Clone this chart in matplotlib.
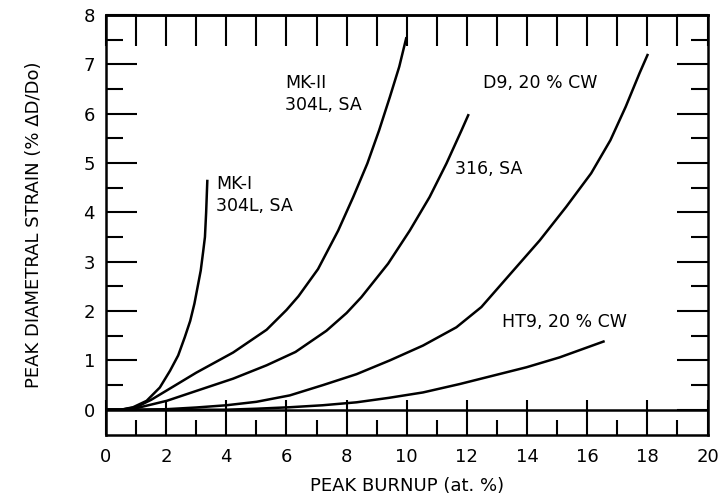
import matplotlib.pyplot as plt
from matplotlib.ticker import MultipleLocator, FixedLocator

# curves (burnup at.%, strain %)
mk1_x = [0, 0.5, 0.9, 1.35, 1.79, 2.13, 2.4, 2.62, 2.8, 2.94, 3.05, 3.15, 3.23, 3.29, 3.33, 3.37]
mk1_y = [0, 0.0, 0.05, 0.18, 0.45, 0.79, 1.1, 1.47, 1.8, 2.15, 2.5, 2.82, 3.2, 3.5, 4.0, 4.66]

mk2_x = [0, 0.5, 1.0, 1.5, 2.02, 3.0, 4.23, 5.34, 6.0, 6.4, 7.05, 7.72, 8.22, 8.69, 9.08, 9.44, 9.75, 9.99]
mk2_y = [0, 0.0, 0.05, 0.2, 0.39, 0.75, 1.16, 1.62, 2.02, 2.3, 2.85, 3.63, 4.31, 4.99, 5.66, 6.34, 6.95, 7.55]

s316_x = [0, 0.5, 1.0, 2.02, 3.0, 4.23, 5.34, 6.3, 7.33, 8.0, 8.49, 9.38, 10.1, 10.76, 11.32, 11.82, 12.06]
s316_y = [0, 0.0, 0.03, 0.18, 0.38, 0.63, 0.9, 1.17, 1.6, 1.96, 2.28, 2.96, 3.63, 4.31, 4.99, 5.66, 5.99]

d9_x = [0, 1, 2, 3, 4, 5, 6.11, 7.22, 8.33, 9.44, 10.54, 11.65, 12.48, 13.37, 14.42, 15.3, 16.13, 16.77, 17.28, 17.74, 18.02]
d9_y = [0, 0.0, 0.01, 0.045, 0.09, 0.16, 0.29, 0.5, 0.72, 1.0, 1.3, 1.67, 2.08, 2.7, 3.43, 4.11, 4.79, 5.46, 6.14, 6.82, 7.21]

ht9_x = [0, 4, 5, 6.11, 7.2, 8.33, 9.4, 10.54, 11.76, 12.87, 13.98, 15.08, 16.58]
ht9_y = [0, 0.0, 0.02, 0.05, 0.09, 0.15, 0.24, 0.35, 0.52, 0.69, 0.86, 1.06, 1.39]

labels = ["MK-I\n304L, SA", "MK-II\n304L, SA", "316, SA", "D9, 20 % CW", "HT9, 20 % CW"]
label_pos = [(3.65, 4.75, 'top'), (5.95, 6.8, 'top'), (11.6, 4.88, 'center'),
             (12.55, 6.62, 'center'), (13.15, 1.77, 'center')]

fig = plt.figure(figsize=(7.23, 4.97), dpi=100)
ax = fig.add_axes([0.1466, 0.124, 0.832, 0.846])

for xs, ys in [(mk1_x, mk1_y), (mk2_x, mk2_y), (s316_x, s316_y), (d9_x, d9_y), (ht9_x, ht9_y)]:
    ax.plot(xs, ys, color='black', lw=1.8, solid_joinstyle='round', solid_capstyle='butt')

for txt, (x, y, va) in zip(labels, label_pos):
    ax.text(x, y, txt, fontsize=12.5, va=va, ha='left', linespacing=1.25)

ax.axhline(0, color='black', lw=1.8)

for s in ax.spines.values():
    s.set_linewidth(1.8)

ax.xaxis.set_major_locator(MultipleLocator(2))
ax.xaxis.set_minor_locator(MultipleLocator(1))
ax.set_yticks(range(0, 9))
ax.yaxis.set_minor_locator(FixedLocator([i + 0.5 for i in range(8)]))
ax.set_xlim(0, 20)
ax.set_ylim(-0.52, 8)

ax.tick_params(axis='x', which='major', direction='in', length=25, width=1.5,
               labelsize=13, pad=9, top=False)
ax.tick_params(axis='x', which='minor', direction='in', length=11, width=1.5, top=False)
ax.tick_params(axis='y', which='major', direction='in', length=22, width=1.5,
               labelsize=13, pad=8, right=True)
ax.tick_params(axis='y', which='minor', direction='in', length=12, width=1.5, right=True)

top = ax.secondary_xaxis('top')
top.set_xticks(range(0, 21))
top.tick_params(direction='in', length=22, width=1.5, labeltop=False)
top.spines['top'].set_linewidth(1.8)

ax.set_xlabel('PEAK BURNUP (at. %)', fontsize=13, labelpad=8)
ax.set_ylabel('PEAK DIAMETRAL STRAIN (% ΔD/Do)', fontsize=13)
ax.yaxis.set_label_coords(-0.105, 0.5)

fig.savefig('out.png', dpi=100)
